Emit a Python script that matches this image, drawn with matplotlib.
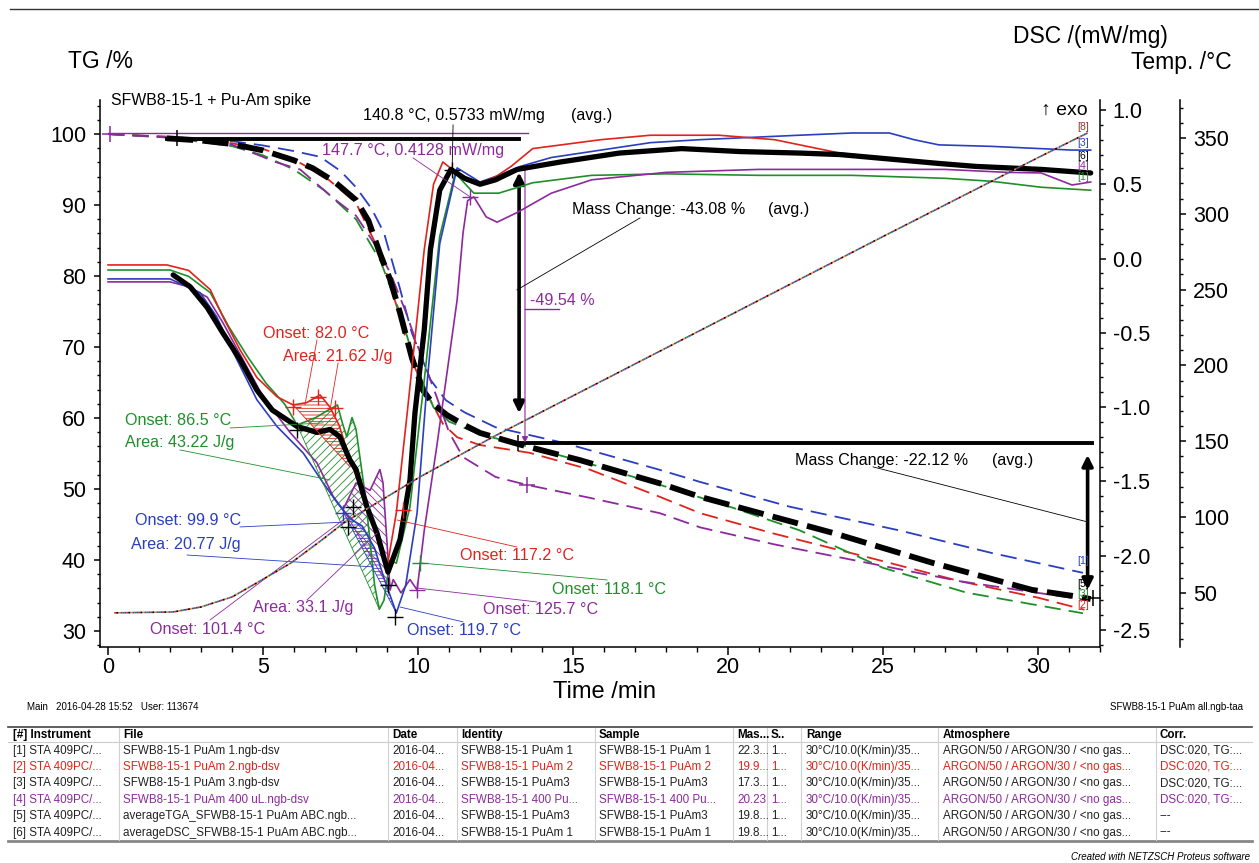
import numpy as np
import matplotlib.pyplot as plt
from matplotlib.ticker import MultipleLocator, FormatStrFormatter

plt.rcParams['font.family'] = ['Liberation Sans', 'DejaVu Sans']
plt.rcParams['axes.unicode_minus'] = False
plt.rcParams['hatch.linewidth'] = 0.6

RED = '#e0231d'
BLUE = '#2a3ec0'
GREEN = '#1f8f2a'
PURPLE = '#8c2a9c'

# ---- temperature program (Temp. /°C) ----
temp_t = [0.2, 2.1, 3.0, 4.0, 4.8, 5.9, 6.9, 7.6, 10.06, 12.42, 15.0, 20.0, 25.0, 30.0, 31.6]
temp_v = [36.9, 37.5, 40.8, 47.4, 56.7, 69.8, 85.0, 96.2, 126.5, 152.9, 180.0, 232.5, 285.0, 337.0, 353.3]

# ---- TG curves /% (dashed) ----
tg_blue_t = [0, 2, 4, 5, 6, 6.84, 7.5, 8.0, 8.5, 8.9, 9.4, 9.8, 10.4, 10.9, 11.5, 12.5, 14.7, 17.8, 19.1, 22.0, 25.5, 28.5, 31.45]
tg_blue_v = [100, 99.6, 99.0, 98.4, 97.6, 96.8, 94.8, 92.5, 89.5, 86.1, 78.5, 72.0, 65.4, 62.5, 60.8, 58.7, 56.5, 52.7, 51.0, 47.5, 44.2, 41.0, 38.2]
tg_red_t = [0, 2, 4, 5, 6, 7, 8, 8.8, 9.4, 9.8, 10.4, 10.8, 11.26, 12.0, 13.6, 15.5, 17.8, 19.1, 21.5, 24.5, 27.5, 30.0, 31.5]
tg_red_v = [100, 99.6, 98.7, 97.9, 96.4, 94.0, 90.3, 83.0, 74.5, 68.0, 62.5, 59.2, 57.3, 56.2, 55.1, 52.8, 48.9, 46.6, 43.7, 40.4, 37.0, 34.7, 33.0]
tg_green_t = [0, 2, 4, 5, 6, 7, 8, 8.8, 9.4, 10.0, 10.5, 11.0, 12.0, 13.1, 15.2, 17.8, 20.2, 22.3, 25.0, 27.7, 31.45]
tg_green_v = [100, 99.5, 98.3, 97.0, 95.0, 92.0, 88.0, 82.0, 75.0, 66.5, 61.5, 59.5, 57.7, 56.5, 54.0, 50.6, 47.3, 44.2, 38.9, 35.4, 32.5]
tg_purple_t = [0, 2, 4, 5.45, 6.2, 7.26, 8.0, 8.6, 9.1, 9.6, 10.0, 10.6, 11.0, 11.45, 12.5, 13.5, 15.5, 17.8, 19.1, 21.5, 24.5, 27.5, 31.5]
tg_purple_v = [100, 99.5, 98.5, 96.0, 95.0, 91.0, 88.5, 84.5, 80.5, 75.0, 70.0, 63.0, 58.0, 54.5, 51.7, 50.6, 48.8, 46.6, 44.6, 42.2, 39.6, 37.0, 34.4]
tg_avg_t = [1.9, 3, 4, 5, 6, 6.6, 7.3, 8.0, 8.4, 8.77, 9.1, 9.42, 9.8, 10.16, 10.5, 10.94, 11.5, 12.0, 13.1, 13.6, 15.2, 17.8, 19.1, 23.4, 26.6, 29.8, 31.35, 31.7]
tg_avg_v = [99.4, 99.1, 98.6, 97.7, 96.3, 95.2, 93.3, 90.7, 87.8, 83.2, 79.5, 74.8, 68.5, 63.9, 61.9, 60.4, 59.0, 57.9, 56.5, 55.9, 54.1, 50.8, 48.9, 43.8, 39.6, 35.8, 34.8, 34.5]

# ---- DSC curves /(mW/mg) (solid) ----
dsc_red_t = [0, 1.9, 2.6, 3.3, 3.7, 4.26, 4.8, 5.45, 5.97, 6.4, 6.84, 7.16, 7.45, 7.8, 8.1, 8.4, 8.75, 9.0, 9.3, 9.65, 10.2, 10.5, 10.8, 11.1, 11.5, 11.9, 12.5, 13.0, 13.7, 15.9, 17.5, 19.7, 21.5, 23.6, 26.0, 28.0, 30.0, 31.7]
dsc_red_v = [-0.043, -0.043, -0.08, -0.21, -0.39, -0.615, -0.80, -0.93, -0.985, -0.97, -0.918, -1.0, -1.12, -1.35, -1.52, -1.72, -1.92, -2.08, -1.71, -1.04, 0.06, 0.50, 0.65, 0.60, 0.53, 0.50, 0.55, 0.62, 0.74, 0.80, 0.83, 0.83, 0.80, 0.71, 0.66, 0.62, 0.60, 0.58]
dsc_blue_t = [0, 2.0, 2.97, 3.5, 4.0, 4.8, 5.45, 6.3, 6.94, 7.4, 7.8, 8.2, 8.6, 8.9, 9.3, 9.6, 9.97, 10.3, 10.7, 11.26, 12.0, 12.6, 13.3, 14.3, 15.9, 17.5, 19.1, 22.3, 24.0, 25.2, 26.0, 26.8, 28.5, 31.1, 31.7]
dsc_blue_v = [-0.137, -0.137, -0.23, -0.39, -0.615, -0.95, -1.13, -1.31, -1.51, -1.645, -1.75, -1.80, -1.95, -2.15, -2.385, -2.2, -1.71, -0.82, 0.1, 0.61, 0.515, 0.56, 0.62, 0.68, 0.73, 0.78, 0.80, 0.83, 0.845, 0.845, 0.80, 0.765, 0.755, 0.73, 0.73]
dsc_green_t = [0, 2.0, 2.6, 3.3, 3.9, 4.5, 5.1, 5.7, 6.1, 6.7, 7.1, 7.4, 7.55, 7.7, 7.87, 8.0, 8.3, 8.6, 8.75, 8.9, 9.1, 9.3, 9.74, 10.2, 10.7, 11.2, 11.8, 12.6, 13.7, 15.6, 18.0, 21.0, 24.0, 27.0, 28.5, 30.1, 31.7]
dsc_green_v = [-0.077, -0.077, -0.12, -0.23, -0.46, -0.66, -0.84, -0.98, -1.12, -1.07, -1.02, -0.985, -1.1, -1.2, -1.07, -1.15, -1.6, -2.2, -2.36, -2.3, -2.03, -2.05, -1.67, -0.82, 0.15, 0.575, 0.44, 0.44, 0.51, 0.56, 0.57, 0.56, 0.56, 0.54, 0.52, 0.48, 0.46]
dsc_purple_t = [0, 2.0, 2.6, 3.2, 3.7, 4.35, 5.0, 5.87, 6.74, 7.26, 7.58, 8.0, 8.45, 8.77, 8.87, 9.1, 9.2, 9.45, 9.74, 9.97, 10.2, 10.6, 10.9, 11.26, 11.45, 11.6, 11.8, 12.2, 12.55, 13.2, 14.3, 15.6, 18.0, 21.0, 24.0, 27.0, 29.0, 30.1, 31.1, 31.7]
dsc_purple_v = [-0.157, -0.157, -0.19, -0.26, -0.43, -0.68, -0.93, -1.17, -1.375, -1.60, -1.69, -1.51, -1.56, -1.42, -1.51, -2.23, -2.16, -2.25, -2.16, -2.23, -1.83, -1.27, -0.82, -0.28, 0.17, 0.39, 0.415, 0.28, 0.245, 0.31, 0.44, 0.53, 0.58, 0.60, 0.60, 0.60, 0.58, 0.576, 0.495, 0.515]
dsc_avg_t = [2.1, 2.65, 3.2, 3.7, 4.26, 4.8, 5.3, 6.1, 6.74, 7.16, 7.48, 7.8, 8.0, 8.35, 8.68, 9.03, 9.42, 9.74, 9.9, 10.2, 10.4, 10.7, 11.06, 11.5, 12.0, 12.5, 13.2, 14.6, 16.5, 18.5, 20.4, 22.3, 23.6, 26.8, 28.0, 30.1, 31.7]
dsc_avg_v = [-0.11, -0.19, -0.33, -0.50, -0.68, -0.885, -1.02, -1.13, -1.17, -1.15, -1.20, -1.355, -1.42, -1.67, -1.85, -2.11, -1.89, -1.49, -1.04, -0.48, 0.06, 0.46, 0.60, 0.54, 0.50, 0.53, 0.60, 0.65, 0.71, 0.74, 0.72, 0.71, 0.70, 0.64, 0.62, 0.60, 0.576]

# peak areas: (curve, start, end, baseline start, baseline end, hatch)
areas = [
    ('red', 5.97, 7.8, -0.985, -1.40, '-----'),
    ('green', 6.1, 8.75, -1.12, -2.36, '////'),
    ('blue', 7.6, 9.3, -1.71, -2.385, '-----'),
    ('purple', 7.6, 9.1, -1.69, -2.23, '\\\\\\\\'),
]

# evaluation labels (DSC coordinates)
labels = [
    ('140.8 °C, 0.5733 mW/mg', 8.23, 0.960, 'black'),
    ('(avg.)', 14.94, 0.960, 'black'),
    ('147.7 °C, 0.4128 mW/mg', 6.90, 0.724, PURPLE),
    ('Mass Change: -43.08 %', 14.97, 0.327, 'black'),
    ('(avg.)', 21.29, 0.327, 'black'),
    ('-49.54 %', 13.61, -0.279, PURPLE),
    ('Mass Change: -22.12 %', 22.16, -1.362, 'black'),
    ('(avg.)', 28.52, -1.362, 'black'),
    ('Onset: 82.0 °C', 5.0, -0.501, RED),
    ('Area: 21.62 J/g', 5.65, -0.662, RED),
    ('Onset: 86.5 °C', 0.55, -1.093, GREEN),
    ('Area: 43.22 J/g', 0.55, -1.241, GREEN),
    ('Onset: 99.9 °C', 0.87, -1.766, BLUE),
    ('Area: 20.77 J/g', 0.74, -1.921, BLUE),
    ('Onset: 117.2 °C', 11.35, -2.001, RED),
    ('Onset: 118.1 °C', 14.32, -2.230, GREEN),
    ('Area: 33.1 J/g', 4.68, -2.351, PURPLE),
    ('Onset: 125.7 °C', 12.10, -2.365, PURPLE),
    ('Onset: 101.4 °C', 1.35, -2.499, PURPLE),
    ('Onset: 119.7 °C', 9.65, -2.506, BLUE),
]

# leader lines from labels to the curves (t0, d0, t1, d1, colour)
leaders = [
    (6.74, -0.548, 6.35, -0.985, RED),
    (7.42, -0.703, 7.16, -1.019, RED),
    (3.94, -1.140, 6.94, -1.106, GREEN),
    (2.32, -1.288, 7.16, -1.490, GREEN),
    (4.26, -1.806, 7.71, -1.773, BLUE),
    (2.55, -1.995, 8.55, -2.075, BLUE),
    (6.42, -2.297, 8.68, -1.847, PURPLE),
    (3.29, -2.432, 7.71, -1.739, PURPLE),
    (13.19, -1.941, 9.32, -1.759, RED),
    (16.10, -2.163, 10.06, -2.048, GREEN),
    (13.84, -2.311, 9.97, -2.217, PURPLE),
    (11.45, -2.445, 9.42, -2.345, BLUE),
    (17.16, 0.273, 13.19, -0.211, 'black'),
    (24.68, -1.402, 31.61, -1.773, 'black'),
    (11.13, 0.899, 11.10, 0.596, 'black'),
    (9.84, 0.677, 11.68, 0.415, PURPLE),
]

# "+" markers on DSC curves
dsc_marks = [
    (5.97, -1.0, RED), (6.77, -0.93, RED), (7.32, -1.005, RED),
    (6.10, -1.154, 'black'), (7.58, -1.712, BLUE), (7.90, -1.672, 'black'),
    (7.74, -1.806, 'black'), (9.03, -2.197, 'black'), (9.26, -2.412, 'black'),
    (9.52, -1.692, RED), (10.06, -2.048, GREEN), (9.97, -2.23, PURPLE),
    (11.10, 0.596, 'black'), (11.68, 0.415, PURPLE),
]
# "+" markers on TG curves
tg_marks = [(0.06, 100.0, PURPLE), (2.23, 99.4, 'black'), (13.23, 56.5, 'black'),
            (13.52, 50.6, PURPLE), (31.77, 34.6, 'black')]

# curve numbers at the right end
dsc_tags = [('8', 0.886, '#9b3030'), ('3', 0.778, BLUE), ('6', 0.69, 'black'),
            ('4', 0.623, PURPLE), ('1', 0.55, GREEN)]
tg_tags = [('1', 39.9, BLUE), ('5', 36.6, 'black'), ('3', 35.2, GREEN), ('2', 33.6, RED)]

# table of measurements
tbl_head = ['[#] Instrument', 'File', 'Date', 'Identity', 'Sample', 'Mas...', 'S..',
            'Range', 'Atmosphere', 'Corr.']
tbl_rows = [
    ['[1] STA 409PC/...', 'SFWB8-15-1 PuAm 1.ngb-dsv', '2016-04...', 'SFWB8-15-1 PuAm 1',
     'SFWB8-15-1 PuAm 1', '22.3...', '1...', '30°C/10.0(K/min)/35...',
     'ARGON/50 / ARGON/30 / <no gas...', 'DSC:020, TG:...'],
    ['[2] STA 409PC/...', 'SFWB8-15-1 PuAm 2.ngb-dsv', '2016-04...', 'SFWB8-15-1 PuAm 2',
     'SFWB8-15-1 PuAm 2', '19.9...', '1...', '30°C/10.0(K/min)/35...',
     'ARGON/50 / ARGON/30 / <no gas...', 'DSC:020, TG:...'],
    ['[3] STA 409PC/...', 'SFWB8-15-1 PuAm 3.ngb-dsv', '2016-04...', 'SFWB8-15-1 PuAm3',
     'SFWB8-15-1 PuAm3', '17.3...', '1...', '30°C/10.0(K/min)/35...',
     'ARGON/50 / ARGON/30 / <no gas...', 'DSC:020, TG:...'],
    ['[4] STA 409PC/...', 'SFWB8-15-1 PuAm 400 uL.ngb-dsv', '2016-04...', 'SFWB8-15-1 400 Pu...',
     'SFWB8-15-1 400 Pu...', '20.23', '1...', '30°C/10.0(K/min)/35...',
     'ARGON/50 / ARGON/30 / <no gas...', 'DSC:020, TG:...'],
    ['[5] STA 409PC/...', 'averageTGA_SFWB8-15-1 PuAm ABC.ngb...', '2016-04...', 'SFWB8-15-1 PuAm3',
     'SFWB8-15-1 PuAm3', '19.8...', '1...', '30°C/10.0(K/min)/35...',
     'ARGON/50 / ARGON/30 / <no gas...', '---'],
    ['[6] STA 409PC/...', 'averageDSC_SFWB8-15-1 PuAm ABC.ngb...', '2016-04...', 'SFWB8-15-1 PuAm 1',
     'SFWB8-15-1 PuAm 1', '19.8...', '1...', '30°C/10.0(K/min)/35...',
     'ARGON/50 / ARGON/30 / <no gas...', '---'],
]
row_colors = ['#222222', RED, '#222222', PURPLE, '#222222', '#222222']
col_x = [13, 123, 392, 461, 599, 737, 771, 806, 943, 1160]
col_sep = [119, 388, 457, 595, 733, 767, 801, 938, 1156]

W, H = 1259, 863
fig = plt.figure(figsize=(W / 100, H / 100), dpi=100)

# page layer in pixel units for header, footer and table
page = fig.add_axes([0, 0, 1, 1])
page.set_xlim(0, W)
page.set_ylim(H, 0)
page.axis('off')

page.plot([10, W], [9, 9], color='#333333', lw=1)
page.text(68, 62, 'TG /%', fontsize=16.5, va='center')
page.text(1013, 37, 'DSC /(mW/mg)', fontsize=16.5, va='center')
page.text(1232, 62, 'Temp. /°C', fontsize=16.5, va='center', ha='right')
page.text(605, 692, 'Time /min', fontsize=17, va='center', ha='center')
page.text(27, 707, 'Main   2016-04-28 15:52   User: 113674', fontsize=7, va='center')
page.text(1243, 707, 'SFWB8-15-1 PuAm all.ngb-taa', fontsize=7, va='center', ha='right')

page.plot([8, 1252], [727, 727], color='#444444', lw=1.2)
page.plot([8, 1252], [742, 742], color='#cccccc', lw=0.8)
page.plot([8, 1252], [841, 841], color='#888888', lw=2)
for xs in col_sep:
    page.plot([xs, xs], [728, 840], color='#d0d0d0', lw=0.8)
for cx, h in zip(col_x, tbl_head):
    page.text(cx, 734.5, h, fontsize=8.4, fontweight='bold', va='center')
for r, (row, rc) in enumerate(zip(tbl_rows, row_colors)):
    for cx, cell in zip(col_x, row):
        page.text(cx, 750.5 + r * 16.4, cell, fontsize=8.4, va='center', color=rc)
page.text(1250, 857, 'Created with NETZSCH Proteus software', fontsize=7,
          style='italic', ha='right', va='center')

# main axes
ax = fig.add_axes([100 / W, 1 - 647 / H, 1000 / W, 547 / H])
ax_dsc = ax.twinx()
ax_temp = ax.twinx()

ax.set_xlim(-0.26, 32.0)
ax.set_ylim(27.75, 104.8)
ax_dsc.set_ylim(-2.614, 1.067)
ax_temp.set_ylim(14.4, 375.0)

for a in (ax, ax_dsc, ax_temp):
    a.spines['top'].set_visible(False)
    for s in a.spines.values():
        s.set_linewidth(1.1)
ax.spines['right'].set_visible(False)
for a in (ax_dsc, ax_temp):
    a.spines['left'].set_visible(False)
    a.spines['bottom'].set_visible(False)
ax_temp.spines['right'].set_position(('axes', 1.080))

ax.xaxis.set_major_locator(MultipleLocator(5))
ax.xaxis.set_minor_locator(MultipleLocator(1))
ax.yaxis.set_major_locator(MultipleLocator(10))
ax.yaxis.set_minor_locator(MultipleLocator(2))
ax_dsc.yaxis.set_major_locator(MultipleLocator(0.5))
ax_dsc.yaxis.set_minor_locator(MultipleLocator(0.1))
ax_dsc.yaxis.set_major_formatter(FormatStrFormatter('%.1f'))
ax_temp.yaxis.set_major_locator(MultipleLocator(50))
ax_temp.yaxis.set_minor_locator(MultipleLocator(10))

ax.tick_params(axis='x', which='major', direction='out', length=6, width=1.1, labelsize=15.5, pad=1.5)
ax.tick_params(axis='x', which='minor', direction='out', length=3.5, width=1)
ax.tick_params(axis='y', which='major', direction='out', length=4, width=1.1, labelsize=15.5, pad=6)
ax.tick_params(axis='y', which='minor', direction='out', length=2.5, width=1)
for a, p in ((ax_dsc, 5), (ax_temp, 5.5)):
    a.tick_params(axis='y', which='major', direction='out', length=4, width=1.1, labelsize=15.5, pad=p)
    a.tick_params(axis='y', which='minor', direction='out', length=2.5, width=1)

# temperature program, dotted in all curve colours
for i, c in enumerate([RED, BLUE, GREEN, PURPLE, '#c8a030', 'black']):
    ax_temp.plot(temp_t, temp_v, color=c, lw=1.2, ls=(i * 1.2, (1.2, 6.0)))

# TG curves
for tt, vv, c in ((tg_blue_t, tg_blue_v, BLUE), (tg_red_t, tg_red_v, RED),
                  (tg_green_t, tg_green_v, GREEN), (tg_purple_t, tg_purple_v, PURPLE)):
    ax.plot(tt, vv, color=c, lw=1.3, dashes=(9, 4.5))
ax.plot(tg_avg_t, tg_avg_v, color='black', lw=4.2, dashes=(4.5, 1.6))

# mass change evaluation
ax.plot([0.0, 13.55], [100.1, 100.1], color=PURPLE, lw=1)
ax.plot([1.9, 13.26], [99.3, 99.3], color='black', lw=2.8)
ax.plot([13.26, 31.75], [56.5, 56.5], color='black', lw=2.8)
ax.plot([13.45, 14.55], [75.35, 75.35], color=PURPLE, lw=1)
ax.annotate('', xy=(13.26, 60.7), xytext=(13.26, 94.6),
            arrowprops=dict(arrowstyle='<|-|>', color='black', lw=2.6,
                            mutation_scale=16, shrinkA=0, shrinkB=0))
ax.annotate('', xy=(13.45, 56.5), xytext=(13.45, 95.2),
            arrowprops=dict(arrowstyle='-|>', color=PURPLE, lw=0.8,
                            mutation_scale=9, shrinkA=0, shrinkB=0))
ax.annotate('', xy=(31.6, 35.8), xytext=(31.6, 54.8),
            arrowprops=dict(arrowstyle='<|-|>', color='black', lw=2.6,
                            mutation_scale=16, shrinkA=0, shrinkB=0))
for t, v, c in tg_marks:
    ax.plot(t, v, marker='+', ms=11, mew=1.1, color=c)

# DSC curves
curves = {'red': (dsc_red_t, dsc_red_v, RED), 'blue': (dsc_blue_t, dsc_blue_v, BLUE),
          'green': (dsc_green_t, dsc_green_v, GREEN), 'purple': (dsc_purple_t, dsc_purple_v, PURPLE)}
for key in ('green', 'purple', 'blue', 'red'):
    tt, vv, c = curves[key]
    ax_dsc.plot(tt, vv, color=c, lw=1.2)
ax_dsc.plot(dsc_avg_t, dsc_avg_v, color='black', lw=3.8, solid_capstyle='round')

for key, t0, t1, b0, b1, hatch in areas:
    tt, vv, c = curves[key]
    seg = np.linspace(t0, t1, 60)
    ax_dsc.fill_between(seg, np.interp(seg, tt, vv), np.interp(seg, [t0, t1], [b0, b1]),
                        facecolor='none', edgecolor=c, hatch=hatch, lw=0)
    ax_dsc.plot([t0, t1], [b0, b1], color=c, lw=0.6)

for t0, d0, t1, d1, c in leaders:
    ax_dsc.plot([t0, t1], [d0, d1], color=c, lw=0.6)
for t, d, c in dsc_marks:
    ax_dsc.plot(t, d, marker='+', ms=11, mew=1.0, color=c)
for text, t, d, c in labels:
    ax_dsc.text(t, d, text, color=c, fontsize=11.6, va='center')

ax_dsc.text(0.10, 1.061, 'SFWB8-15-1 + Pu-Am spike', fontsize=11.4, va='center')
ax_dsc.text(31.6, 0.995, '↑ exo', fontsize=14, va='center', ha='right')

for n, d, c in dsc_tags:
    ax_dsc.text(31.45, d, '[' + n + ']', fontsize=7.5, color=c, ha='center', va='center')
for n, v, c in tg_tags:
    ax.text(31.45, v, '[' + n + ']', fontsize=7.5, color=c, ha='center', va='center')

fig.savefig('out.png', dpi=100)
